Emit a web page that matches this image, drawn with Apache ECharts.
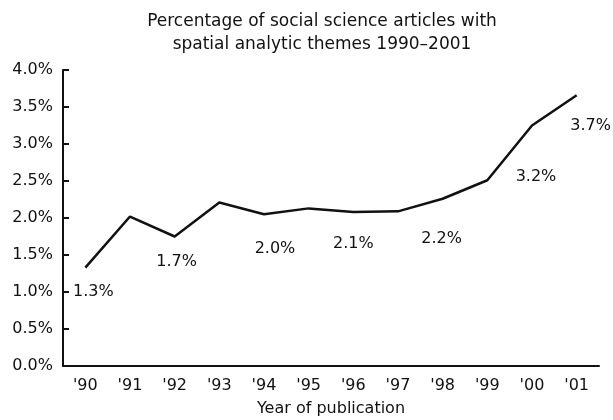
<!DOCTYPE html>
<html>
<head>
<meta charset="utf-8">
<script src="https://cdn.jsdelivr.net/npm/echarts@6/dist/echarts.min.js"></script>
<style>html,body{margin:0;padding:0;background:#fff}#c{width:613px;height:420px}</style>
</head>
<body>
<div id="c"></div>
<script>
var categories = ["'90","'91","'92","'93","'94","'95","'96","'97","'98","'99","'00","'01"];
var values = [1.33, 2.02, 1.75, 2.21, 2.05, 2.13, 2.08, 2.09, 2.26, 2.51, 3.25, 3.66];
var labelTexts = ["1.3%", "", "1.7%", "", "2.0%", "", "2.1%", "", "2.2%", "", "3.2%", "3.7%"];
var labelOffsets = [[8,24],[0,0],[2,25],[0,0],[11,35],[0,0],[0,32],[0,0],[-1,40],[0,0],[4,51],[14,31]];
var yTicks = [0, 0.5, 1, 1.5, 2, 2.5, 3, 3.5, 4];

var FONT = 'DejaVu Sans';
var chart = echarts.init(document.getElementById('c'), null, {renderer: 'canvas'});
var seriesData = values.map(function (v, i) {
  return {
    value: v,
    label: {
      show: labelTexts[i] !== '',
      formatter: labelTexts[i],
      position: labelOffsets[i],
      align: 'center',
      verticalAlign: 'middle'
    }
  };
});
chart.setOption({
  animation: false,
  backgroundColor: '#fff',
  title: {
    text: 'Percentage of social science articles with\nspatial analytic themes 1990\u20132001',
    left: 317,
    textAlign: 'center',
    top: 5,
    textStyle: {fontFamily: FONT, fontSize: 17, fontWeight: 'normal', color: '#111', lineHeight: 23}
  },
  grid: {left: 63, right: 14, top: 70, bottom: 54, containLabel: false, outerBoundsMode: 'none'},
  xAxis: {
    type: 'category',
    data: categories,
    boundaryGap: true,
    name: 'Year of publication',
    nameLocation: 'middle',
    nameGap: 35,
    nameTextStyle: {fontFamily: FONT, fontSize: 16, color: '#111'},
    axisLine: {lineStyle: {color: '#111', width: 2}},
    axisTick: {inside: true, length: 6, lineStyle: {color: '#111', width: 2}},
    axisLabel: {fontFamily: FONT, fontSize: 16, color: '#111', margin: 12},
    splitLine: {show: false}
  },
  yAxis: {
    type: 'value',
    min: 0,
    max: 4,
    interval: 0.5,
    axisLine: {show: true, lineStyle: {color: '#111', width: 2}},
    axisTick: {show: true, inside: true, length: 6, lineStyle: {color: '#111', width: 2}},
    axisLabel: {fontFamily: FONT, fontSize: 16, color: '#111', margin: 10,
      formatter: function (v) { return v.toFixed(1) + '%'; }},
    splitLine: {show: false}
  },
  series: [{
    type: 'line',
    data: seriesData,
    symbol: 'circle',
    symbolSize: 0,
    showSymbol: true,
    itemStyle: {color: '#111'},
    lineStyle: {color: '#111', width: 2.5},
    label: {fontFamily: FONT, fontSize: 16, color: '#111'},
    labelLayout: {hideOverlap: false}
  }]
});
</script>
</body>
</html>
